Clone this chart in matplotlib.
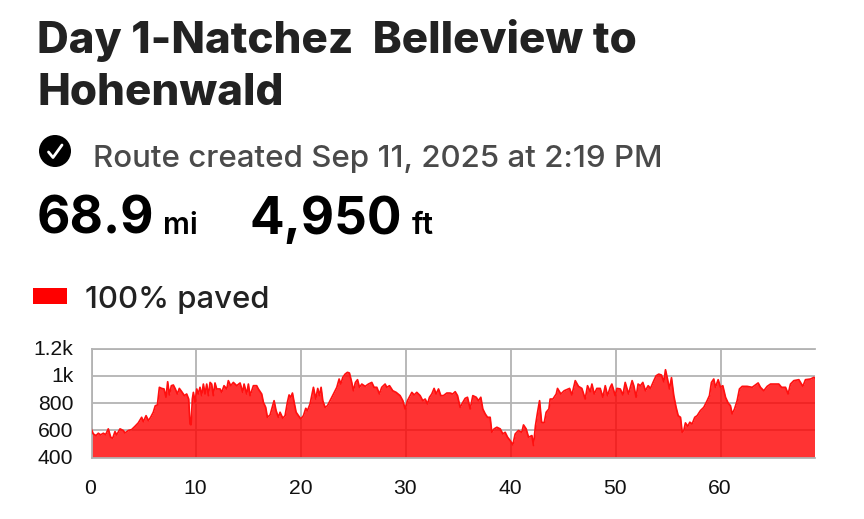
import matplotlib
matplotlib.use("Agg")
import matplotlib.pyplot as plt
from matplotlib.patches import Circle, Rectangle
from matplotlib.ticker import FixedLocator
from matplotlib.transforms import ScaledTranslation

# (mile, elevation in ft)
profile_a = [(0,605),(.17,573),(.43,561),(.65,578),(.87,566),(1.13,578),(1.35,568),(1.6,610),(1.83,549),(2.02,541),
 (2.24,590),(2.4,566),(2.72,610),(3.03,598),(3.19,580),(3.51,598),(3.83,605),(4.15,629),(4.46,654),(4.78,695),
 (4.94,663),(5.2,707),(5.42,671),(5.64,695),(5.89,732),(6.08,780),(6.28,785),(6.47,915),(6.69,907),(6.91,903),
 (7.1,842),(7.26,956),(7.42,859),(7.61,927),(7.8,932),(7.99,903),(8.18,866),(8.37,907),(8.6,883),(8.85,854),
 (9.07,866),(9.26,829),(9.39,646),(9.49,639),(9.61,829),(9.71,878),(9.87,805),(10.03,903),(10.18,866),(10.34,915),
 (10.5,854),(10.66,939),(10.82,866),(10.98,939),(11.14,854),(11.3,951),(11.45,939),(11.61,854),(11.77,947),(11.93,903),
 (12.25,903),(12.41,878),(12.63,927),(12.89,903),(13.04,964),(13.27,927),(13.52,951),(13.84,927),(14.16,947),(14.41,878),
 (14.54,939),(14.79,866),(14.95,939),(15.11,854),(15.43,927),(15.74,927),(15.9,903),(16.22,866),(16.38,805),(16.6,768),(16.76,695)]
profile_b = [(17.02,712),(17.18,756),(17.4,817),(17.59,744),(17.81,695),(17.97,732),(18.23,688),(18.45,707),(18.67,805),(18.83,859),
 (18.99,842),(19.15,873),(19.31,805),(19.5,732),(19.72,707),(19.94,683),(20.2,707),(20.42,761),(20.58,744),(20.83,793),
 (20.99,854),(21.15,915),(21.37,829),(21.56,907),(21.72,854),(21.88,915),(22.04,817),(22.26,768),(22.49,780),(22.74,817),
 (23.06,866),(23.38,915),(23.6,976),(23.76,939),(23.95,988),(24.17,1012),(24.39,1025),(24.58,1020),(24.8,951),(24.96,890),
 (25.15,951),(25.35,971),(25.54,915),(25.76,939),(26.08,922),(26.39,939),(26.71,951),(26.93,915),(27.19,915),(27.44,866),
 (27.66,915),(27.98,939),(28.14,915),(28.4,927),(28.71,890),(29.03,878),(29.41,854),(29.67,817),(29.89,756),(30.11,817),
 (30.37,854),(30.53,878),(30.75,859),(31,878),(31.32,854),(31.57,817),(31.8,829),(32.02,793),(32.21,842),(32.43,866),
 (32.65,907),(32.84,866),(33.07,903),(33.29,854),(33.54,854),(33.86,873)]
profile_c = [(34.18,873),(34.43,866),(34.66,883),(34.88,854),(35.13,768),(35.39,805),(35.61,834),(35.83,842),(36.09,756),(36.34,854),
 (36.66,842),(36.88,817),(37.1,842),(37.29,756),(37.52,720),(37.74,695),(37.99,695),(38.15,585),(38.37,610),(38.63,622),
 (38.95,610),(39.2,573),(39.42,585),(39.65,549),(39.9,524),(40.15,493),(40.38,573),(40.69,598),(41.01,585),(41.17,639),
 (41.42,610),(41.65,549),(41.97,561),(42.12,488),(42.31,634),(42.51,732),(42.7,817),(42.89,659),(43.14,654),(43.33,732),
 (43.59,756),(43.71,829),(43.97,829),(44.29,866),(44.41,907),(44.73,866),(45.05,890),(45.3,898),(45.56,907),(45.78,859),
 (46.1,964),(46.41,922),(46.73,907),(47.05,829),(47.27,927),(47.53,883),(47.69,939),(47.91,866),(48.16,907),(48.48,907),
 (48.73,842),(48.96,927),(49.18,854),(49.43,915),(49.59,939),(49.91,854),(50.07,907),(50.39,903),(50.64,859),(50.86,951),(51.18,866)]
profile_d = [(51.52,964),(51.68,927),(51.9,842),(52.09,939),(52.31,927),(52.54,951),(52.79,890),(53.05,927),(53.27,907),(53.59,964),
 (53.81,1000),(54.06,1012),(54.32,1005),(54.54,956),(54.7,1044),(54.89,976),(55.08,903),(55.27,986),(55.49,854),(55.71,768),
 (55.91,707),(56.13,695),(56.29,585),(56.45,598),(56.6,654),(56.83,629),(57.02,659),(57.24,646),(57.49,695),(57.72,707),
 (58.03,744),(58.35,768),(58.67,817),(58.89,854),(59.08,951),(59.3,976),(59.46,915),(59.72,971),(59.94,915),(60.16,927),
 (60.42,842),(60.67,800),(60.89,780),(61.05,720),(61.28,756),(61.53,817),(61.75,903),(62.01,922),(62.48,922),(62.96,915),
 (63.53,947),(63.75,915),(64.07,890),(64.39,922),(64.71,939),(65.02,939),(65.5,939),(65.76,915),(66.14,915),(66.39,866),
 (66.61,939),(66.93,964),(67.41,971),(67.79,922),(68.04,971),(68.52,976),(68.84,988),(68.9,985)]
miles, elevation = zip(*(profile_a + profile_b + profile_c + profile_d))

x_ticks = [0,10,20,30,40,50,60]
y_ticks = [400,600,800,1000,1200]
y_labels = ["400","600","800","1k","1.2k"]

W, H = 864, 519
fig = plt.figure(figsize=(W/100, H/100), dpi=100, facecolor="white")

ov = fig.add_axes([0, 0, 1, 1])
ov.set_xlim(0, W); ov.set_ylim(H, 0); ov.axis("off")
ink = "#222222"
ov.text(37, 53, "Day 1-Natchez  Belleview to", family="Inter", weight="heavy", fontsize=31.6, color=ink)
ov.text(37, 105, "Hohenwald", family="Inter", weight="heavy", fontsize=31.6, color=ink)
ov.add_patch(Circle((55, 151), 16, color="black", lw=0))
ov.plot([48.5, 53, 62], [152, 157.5, 145], color="white", lw=2.0, solid_capstyle="round", solid_joinstyle="round")
ov.text(93, 167, "Route created Sep 11, 2025 at 2:19 PM", family="Inter", weight="medium", fontsize=22.5, color="#4a4a4a")
ov.text(37, 234, "68.9", family="Inter", weight="bold", fontsize=37, color="black")
ov.text(163, 234, "mi", family="Inter", weight="semibold", fontsize=21.5, color="black")
ov.text(250, 234, "4,950", family="Inter", weight="bold", fontsize=37, color="black")
ov.text(412, 234, "ft", family="Inter", weight="semibold", fontsize=21.5, color="black")
ov.add_patch(Rectangle((33, 288), 34, 16, color="#ff0000", lw=0))
ov.text(85, 308, "100% paved", family="Inter", weight="medium", fontsize=22.4, color=ink)

left, right, top, bottom = 91.5, 814.5, 348.5, 457.5
ax = fig.add_axes([left/W, 1-bottom/H, (right-left)/W, (bottom-top)/H])
ax.set_xlim(0, 68.9); ax.set_ylim(400, 1200)
ax.xaxis.set_major_locator(FixedLocator(x_ticks))
ax.yaxis.set_major_locator(FixedLocator(y_ticks))
ax.set_yticklabels(y_labels)
ax.grid(True, color="#b3b3b3", lw=1.3, zorder=1)
ax.set_axisbelow(True)
for s, sp in ax.spines.items():
    sp.set_visible(s in ("top", "bottom", "left"))
    sp.set_color("#b3b3b3"); sp.set_linewidth(1.3)
ax.tick_params(length=0, labelsize=15.2, labelcolor="#111111", labelfontfamily="Liberation Sans")
ax.tick_params(axis="x", pad=15.5)
ax.tick_params(axis="y", pad=13)
shift_y = ScaledTranslation(0, 1/100, fig.dpi_scale_trans)
shift_x = ScaledTranslation(-1/100, 0, fig.dpi_scale_trans)
for lab in ax.get_yticklabels():
    lab.set_transform(lab.get_transform() + shift_y)
for lab in ax.get_xticklabels():
    lab.set_transform(lab.get_transform() + shift_x)
ax.fill_between(miles, 400, elevation, color="#ff0000", alpha=0.8, lw=0, zorder=2)
ax.plot(miles, elevation, color="#ff1010", lw=1.25, zorder=3)
fig.savefig("out.png", dpi=100)
